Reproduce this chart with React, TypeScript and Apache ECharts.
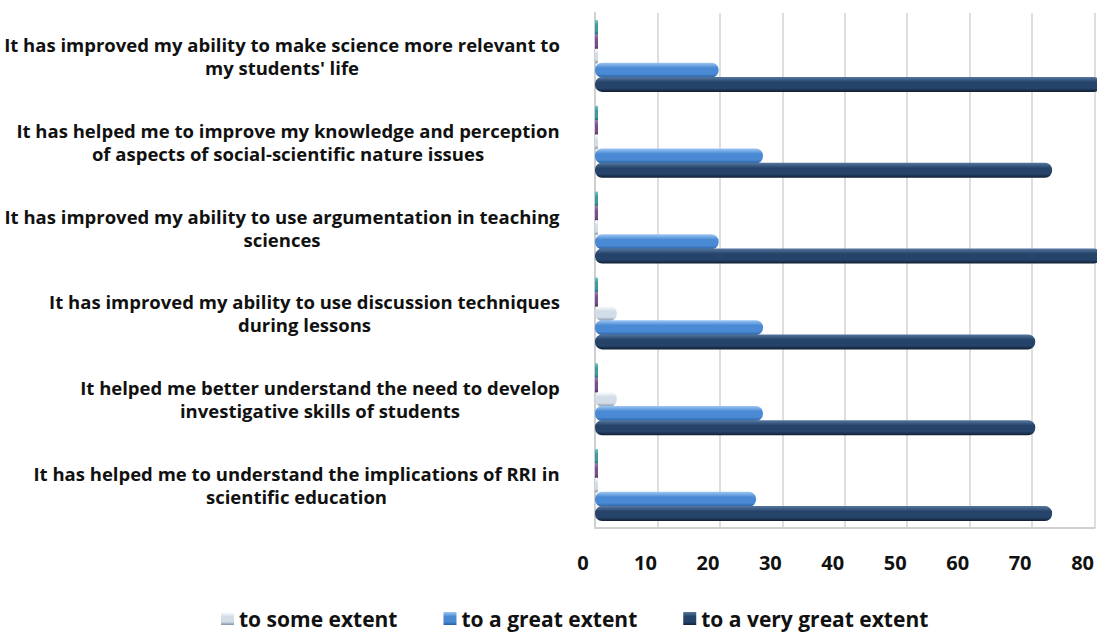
import React, { useEffect, useRef } from "react";
import * as echarts from "echarts";

const categories = [
  "It has improved my ability to make science more relevant to\nmy students' life",
  "It has helped me to improve my knowledge and perception\nof aspects of social-scientific nature issues",
  "It has improved my ability to use argumentation in teaching\nsciences",
  "It has improved my ability to use discussion techniques\nduring lessons",
  "It helped me better understand the need to develop\ninvestigative skills of students",
  "It has helped me to understand the implications of RRI in\nscientific education",
];

const notAtAll = [0, 0, 0, 0, 0, 0];
const toSmallExtent = [0, 0, 0, 0, 0, 0];
const toSomeExtent = [0, 0, 0, 3.5, 3.5, 0];
const toGreatExtent = [19.8, 26.9, 19.8, 26.9, 26.9, 25.8];
const toVeryGreatExtent = [81, 73.2, 81, 70.5, 70.5, 73.2];

const xTicks = [0, 10, 20, 30, 40, 50, 60, 70, 80];
const legendNames = ["to some extent", "to a great extent", "to a very great extent"];

const FONT = "'Open Sans'";

function cyl(top: string, mid: string, bot: string) {
  return new echarts.graphic.LinearGradient(0, 0, 0, 1, [
    { offset: 0, color: top },
    { offset: 0.35, color: mid },
    { offset: 0.75, color: mid },
    { offset: 1, color: bot },
  ]);
}

export default function App() {
  const ref = useRef<HTMLDivElement>(null);
  useEffect(() => {
    if (!ref.current) return;
    const chart = echarts.init(ref.current, undefined, { renderer: "svg" });
    const canvas = document.createElement("canvas");
    const ctx = canvas.getContext("2d")!;
    ctx.font = `bold 20px ${FONT}`;
    const refW = ctx.measureText(categories[0].split("\n")[0]).width;
    const labelSize = Math.round(((20 * 552) / refW) * 2) / 2;
    ctx.font = `bold ${labelSize}px ${FONT}`;
    const rich: Record<string, any> = {};
    categories.forEach((c, i) => {
      const w = Math.max(...c.split("\n").map((l) => ctx.measureText(l).width));
      rich["c" + i] = {
        width: Math.ceil(w) + 2,
        align: "center",
        fontFamily: FONT,
        fontWeight: "bold",
        fontSize: labelSize,
        lineHeight: 23,
        color: "#111",
      };
    });

    const barW = 15;
    const mk = (name: string, data: number[], color: any, extra: any = {}) => ({
      name,
      type: "bar",
      data,
      barWidth: barW,
      barGap: "-5%",
      clip: false,
      itemStyle: { color, borderRadius: 7 },
      ...extra,
    });

    chart.setOption({
      animation: false,
      grid: { left: 594, right: 1, top: 13, bottom: 106, containLabel: false },
      legend: {
        data: legendNames,
        bottom: 0,
        left: 216,
        icon: "rect",
        itemWidth: 13,
        itemHeight: 13,
        itemGap: 46,
        textStyle: { fontFamily: FONT, fontWeight: "bold", fontSize: 21, color: "#111" },
      },
      xAxis: {
        type: "value",
        min: 0,
        max: 80,
        interval: 10,
        axisLine: { show: true, lineStyle: { color: "#d0d0d0", width: 2 } },
        axisTick: { show: false },
        splitLine: { show: true, lineStyle: { color: "#dedede", width: 2 } },
        axisLabel: {
          margin: 24,
          padding: [0, 24, 0, 0],
          fontFamily: FONT,
          fontWeight: "bold",
          fontSize: 20,
          color: "#111",
          formatter: (v: number) => (xTicks.includes(v) ? String(v) : ""),
        },
      },
      yAxis: {
        type: "category",
        inverse: true,
        data: categories,
        axisLine: { show: true, lineStyle: { color: "#cfcfcf", width: 2 } },
        axisTick: { show: false },
        axisLabel: {
          margin: 34,
          align: "right",
          formatter: (v: string, i: number) =>
            v
              .split("\n")
              .map((l) => `{c${i}|${l}}`)
              .join("\n"),
          rich,
        },
      },
      series: [
        mk("not at all", notAtAll, cyl("#6fc3c6", "#3d9aa0", "#23666a"), {
          barMinHeight: 3,
          itemStyle: { color: cyl("#6fc3c6", "#3d9aa0", "#23666a"), borderRadius: 1 },
        }),
        mk("to a small extent", toSmallExtent, cyl("#a07ab2", "#7b4d8f", "#4f2f5e"), {
          barMinHeight: 3,
          itemStyle: { color: cyl("#a07ab2", "#7b4d8f", "#4f2f5e"), borderRadius: 1 },
        }),
        mk("to some extent", toSomeExtent, cyl("#ffffff", "#d3dde8", "#8193a8"), {
          barMinHeight: 3,
        }),
        mk("to a great extent", toGreatExtent, cyl("#9cc7f3", "#4a8ad4", "#2a5f9f")),
        mk("to a very great extent", toVeryGreatExtent, cyl("#56779f", "#26446a", "#101f33")),
      ],
    });
    return () => chart.dispose();
  }, []);
  return (
    <div
      ref={ref}
      style={{ position: "fixed", left: 0, top: 0, width: 1097, height: 634, background: "#fff" }}
    />
  );
}
